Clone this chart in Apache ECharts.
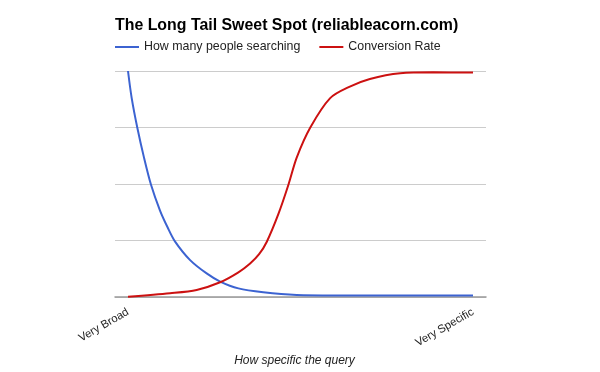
<!DOCTYPE html>
<html><head><meta charset="utf-8">
<script src="https://cdn.jsdelivr.net/npm/echarts@6/dist/echarts.min.js"></script>
<style>html,body{margin:0;padding:0;background:#fff}#c{width:600px;height:372px}</style>
</head><body><div id="c"></div>
<script>
const title = 'The Long Tail Sweet Spot (reliableacorn.com)';
const seriesNames = ['How many people searching', 'Conversion Rate'];
const xTickValues = [0, 100];
const xTickLabels = ['Very Broad', 'Very Specific'];
const xAxisName = 'How specific the query';
// [specificity, value]
const searchingX = [0, 1.07, 2.7, 4.64, 6.67, 9.28, 11.5, 13.6, 18.0, 22.8, 26.7, 32.0, 39.2, 48.9, 60, 80, 100];
const searchingY = [100, 88.0, 74.9, 61.7, 49.7, 38.3, 30.8, 24.7, 16.4, 10.5, 6.9, 3.9, 2.2, 1.0, 0.8, 0.8, 0.8];
const conversionX = [0, 12.2, 19.9, 26.7, 32.0, 35.4, 38.0, 40.2, 43.6, 46.5, 48.9, 52.8, 58.6, 64.3, 70.1, 78.9, 88.5, 100];
const conversionY = [0.2, 1.75, 3.2, 6.6, 11.0, 14.9, 19.0, 24.4, 36.8, 49.7, 61.7, 74.9, 88.0, 93.1, 96.5, 99, 99.4, 99.3];

const pair = (xs, ys) => xs.map((x, i) => [x, ys[i]]);
const chart = echarts.init(document.getElementById('c'));
const font = 'Liberation Sans, Arial, sans-serif';
chart.setOption({
  animation: false,
  textStyle: { fontFamily: font },
  title: { text: title, left: 115, top: 18, padding: 0, textStyle: { fontSize: 15.9, fontWeight: 'bold', color: '#000', fontFamily: font } },
  legend: {
    left: 110, top: 36, itemWidth: 24, itemHeight: 14, itemGap: 19, icon: 'path://M0,6L24,6L24,8L0,8Z',
    textStyle: { fontSize: 12.4, color: '#222', fontFamily: font },
    data: seriesNames
  },
  grid: { left: 115, right: 114, top: 71, bottom: 71, containLabel: false },
  xAxis: {
    type: 'value', min: -3.77, max: 103.77,
    name: xAxisName, nameLocation: 'middle', nameGap: 56,
    nameTextStyle: { fontStyle: 'italic', fontSize: 12, color: '#222', fontFamily: font, padding: [0, 12, 0, 0] },
    axisLine: { show: true, lineStyle: { color: '#999', width: 1.5 } },
    axisTick: { show: false },
    splitLine: { show: false },
    axisLabel: {
      customValues: xTickValues, rotate: 30, margin: 14, fontSize: 11.3, color: '#222', fontFamily: font,
      formatter: v => xTickLabels[xTickValues.indexOf(v)] || ''
    }
  },
  yAxis: {
    type: 'value', min: 0, max: 100, interval: 25,
    axisLine: { show: false }, axisTick: { show: false }, axisLabel: { show: false },
    splitLine: { lineStyle: { color: '#ccc', width: 1 } }
  },
  series: [
    { name: seriesNames[0], type: 'line', smooth: 0.3, showSymbol: false, data: pair(searchingX, searchingY),
      lineStyle: { color: '#3c63d1', width: 2 }, itemStyle: { color: '#3c63d1' } },
    { name: seriesNames[1], type: 'line', smooth: 0.3, showSymbol: false, data: pair(conversionX, conversionY),
      lineStyle: { color: '#cc1111', width: 2 }, itemStyle: { color: '#cc1111' } }
  ]
});
</script></body></html>
